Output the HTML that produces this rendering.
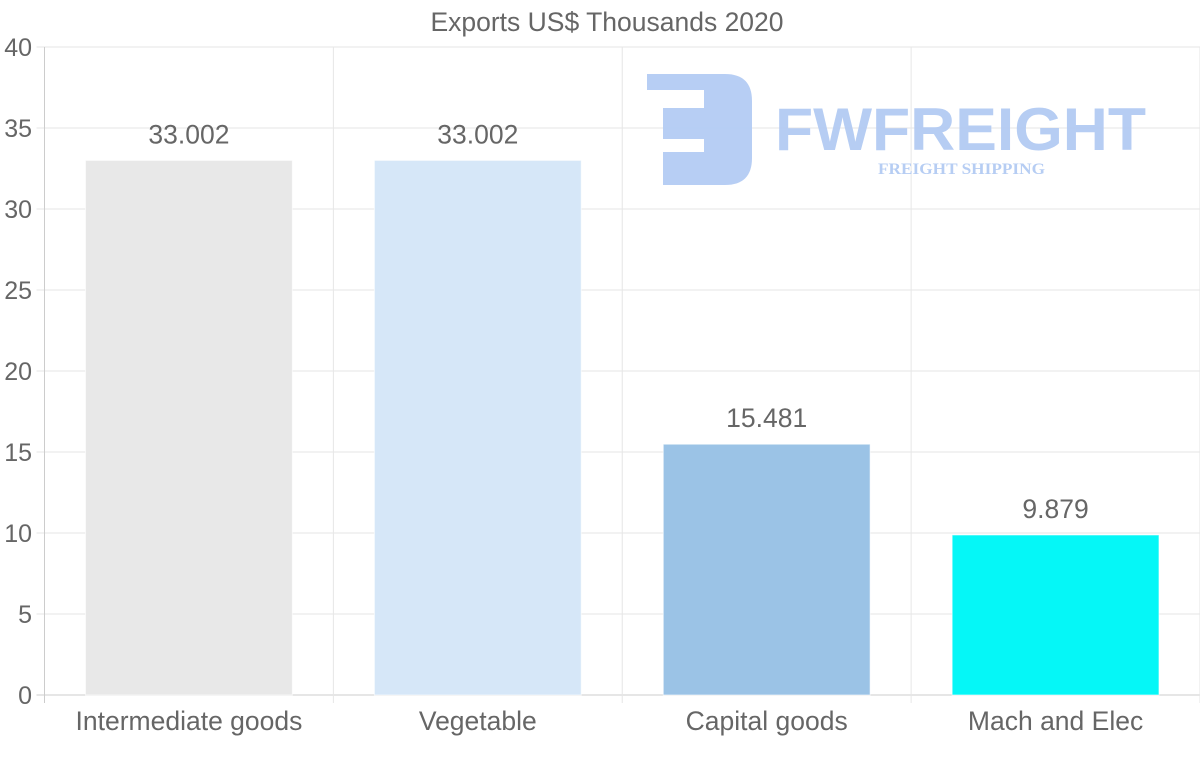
<!DOCTYPE html>
<html><head><meta charset="utf-8"><style>
html,body{margin:0;padding:0;background:#fff;width:1200px;height:763px;overflow:hidden}
svg{display:block;font-family:"Liberation Sans",Arial,sans-serif}
</style></head><body>
<svg id="chart" width="1200" height="763">
<text x="607" y="31" text-anchor="middle" font-size="26.5" fill="#666">Exports US$ Thousands 2020</text>
<g id="grid"></g>
<g id="logo" opacity="0.95">
<path d="M647 74 H725 Q752 74 752 101 V158 Q752 185 725 185 H663 V152 H704 V139 H663 V108 H704 V90 H647 Z" fill="#b3cbf3"/>
<text x="775" y="150" font-size="60" font-weight="bold" fill="#b3cbf3" textLength="371" lengthAdjust="spacingAndGlyphs">FWFREIGHT</text>
<text x="878" y="174" font-size="16" font-weight="bold" font-family="Liberation Serif,serif" fill="#b3cbf3" textLength="167" lengthAdjust="spacingAndGlyphs">FREIGHT SHIPPING</text>
</g>
<g id="bars"></g>
</svg>
<script>
const categories = ["Intermediate goods","Vegetable","Capital goods","Mach and Elec"];
const values = [33.002, 33.002, 15.481, 9.879];
const valueLabels = ["33.002","33.002","15.481","9.879"];
const yTicks = [0,5,10,15,20,25,30,35,40];
const colors = ["#e8e8e8","#d6e7f8","#9bc3e6","#05f7f7"];
const NS="http://www.w3.org/2000/svg";
const L=44.5,R=1200,T=47,B=695,yMax=40;
const band=(R-L)/categories.length;
const y=v=>B-(v/yMax)*(B-T);
const x=i=>L+band*i;
function mk(tag,a,p){const e=document.createElementNS(NS,tag);for(const k in a)e.setAttribute(k,a[k]);p.appendChild(e);return e;}
const grid=document.getElementById('grid'),bars=document.getElementById('bars');
yTicks.forEach(t=>{
  const ln=mk('line',{x1:L-8,x2:R,y1:y(t),y2:y(t),stroke:t===0?'#ccc':'#e6e6e6','stroke-width':1},grid);
  
  
  const tx=mk('text',{x:32,y:y(t)+9,'text-anchor':'end','font-size':25,fill:'#666'},grid);
  tx.textContent=t;
  
  
});
for(let i=0;i<=categories.length;i++){
  const ln=mk('line',{x1:x(i),x2:x(i),y1:T,y2:B+8,stroke:i===0?'#ccc':'#e6e6e6','stroke-width':1},grid);
  
  
}
categories.forEach((c,i)=>{
  const bw=band*0.716,bx=x(i)+(band-bw)/2;
  const r=mk('rect',{x:bx,y:y(values[i]),width:bw,height:B-y(values[i]),fill:colors[i],stroke:'#fff','stroke-opacity':0.6},bars);
  
  
  const vl=mk('text',{x:x(i)+band/2,y:y(values[i])-17,'text-anchor':'middle','font-size':26.5,fill:'#666'},bars);
  vl.textContent=valueLabels[i];
  
  
  const cl=mk('text',{x:x(i)+band/2,y:730,'text-anchor':'middle','font-size':26.5,fill:'#666'},bars);
  cl.textContent=c;
  
  
});
</script>
</body></html>
